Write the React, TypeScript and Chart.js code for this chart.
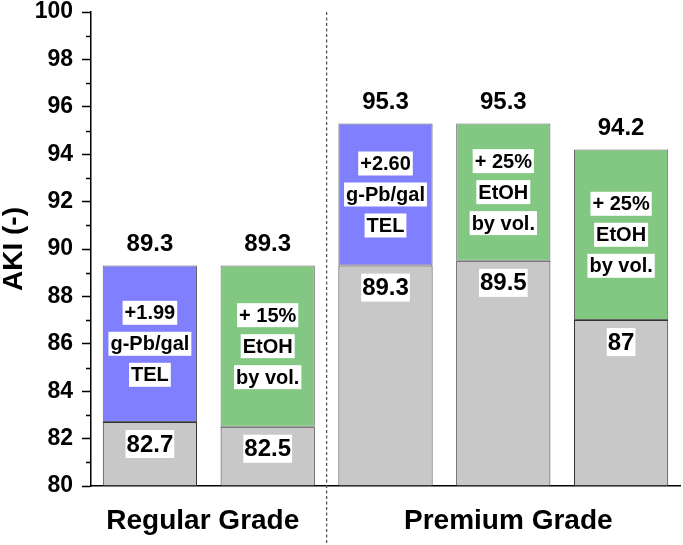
import React, { useEffect, useRef } from "react";
import { Chart, registerables } from "chart.js";

Chart.register(...registerables);

const categories = ["Regular TEL", "Regular EtOH", "Premium TEL", "Premium EtOH A", "Premium EtOH B"];
const baseValues = [82.7, 82.5, 89.3, 89.5, 87];
const totalValues = [89.3, 89.3, 95.3, 95.3, 94.2];
const baseLabels = ["82.7", "82.5", "89.3", "89.5", "87"];
const totalLabels = ["89.3", "89.3", "95.3", "95.3", "94.2"];
const additiveLines = [
  ["+1.99", "g-Pb/gal", "TEL"],
  ["+ 15%", "EtOH", "by vol."],
  ["+2.60", "g-Pb/gal", "TEL"],
  ["+ 25%", "EtOH", "by vol."],
  ["+ 25%", "EtOH", "by vol."],
];
const additiveType = ["TEL", "EtOH", "TEL", "EtOH", "EtOH"];
const groups = [
  { label: "Regular Grade", from: 0, to: 1, dx: -6 },
  { label: "Premium Grade", from: 3, to: 3, dx: 5 },
];
const yTicks = [80, 82, 84, 86, 88, 90, 92, 94, 96, 98, 100];
const yMinorTicks = [81, 83, 85, 87, 89, 91, 93, 95, 97, 99];

const FONT = "'Liberation Sans', Arial, sans-serif";
const BLUE = "#8080FF";
const GREEN = "#82C882";
const GRAY = "#C8C8C8";

const overlayPlugin = {
  id: "overlay",
  afterDatasetsDraw(chart: any) {
    const ctx = chart.ctx;
    const x = chart.scales.x;
    const y = chart.scales.y;
    const area = chart.chartArea;
    const baseMeta = chart.getDatasetMeta(0);
    const topMeta = chart.getDatasetMeta(1);

    ctx.save();
    // minor ticks
    ctx.strokeStyle = "#000";
    ctx.lineWidth = 1.5;
    yMinorTicks.forEach((v) => {
      const py = Math.round(y.getPixelForValue(v)) + 0.5;
      ctx.beginPath();
      ctx.moveTo(area.left - 5, py);
      ctx.lineTo(area.left, py);
      ctx.stroke();
    });

    // dashed separator
    const sepX = (x.getPixelForValue(1) + x.getPixelForValue(2)) / 2;
    ctx.strokeStyle = "#555";
    ctx.lineWidth = 1.3;
    ctx.setLineDash([3, 2.5]);
    ctx.beginPath();
    ctx.moveTo(sepX, area.top);
    ctx.lineTo(sepX, chart.height);
    ctx.stroke();
    ctx.setLineDash([]);

    ctx.textAlign = "center";
    ctx.textBaseline = "middle";

    const drawBoxed = (text: string, cx: number, cy: number, size: number, boxH: number, padX: number) => {
      ctx.font = `bold ${size}px ${FONT}`;
      const w = ctx.measureText(text).width + padX * 2;
      ctx.fillStyle = "#fff";
      ctx.fillRect(cx - w / 2, cy - boxH / 2, w, boxH);
      ctx.fillStyle = "#000";
      ctx.fillText(text, cx, cy + 1);
    };

    for (let i = 0; i < categories.length; i++) {
      const b = baseMeta.data[i];
      const t = topMeta.data[i];
      // total label above bar
      ctx.font = `bold 24px ${FONT}`;
      ctx.fillStyle = "#000";
      ctx.fillText(totalLabels[i], t.x, t.y - 21);
      // base label
      drawBoxed(baseLabels[i], b.x, b.y + 22, 24, 28, 1);
      // additive lines centered in top segment
      const mid = (t.y + t.base) / 2;
      const lines = additiveLines[i];
      const spacing = 31;
      lines.forEach((ln, k) => {
        const cy = mid + (k - (lines.length - 1) / 2) * spacing;
        drawBoxed(ln, t.x, cy, 20, 24, 2);
      });
    }

    // group labels
    ctx.font = `bold 28px ${FONT}`;
    ctx.fillStyle = "#000";
    groups.forEach((g) => {
      const gx = (x.getPixelForValue(g.from) + x.getPixelForValue(g.to)) / 2 + g.dx;
      ctx.fillText(g.label, gx, area.bottom + 35);
    });
    ctx.restore();
  },
};

export default function App() {
  const ref = useRef<HTMLCanvasElement | null>(null);
  useEffect(() => {
    document.body.style.margin = "0";
    const canvas = ref.current;
    if (!canvas) return;
    const chart = new Chart(canvas, {
      type: "bar",
      data: {
        labels: categories,
        datasets: [
          {
            label: "Base",
            data: baseValues.map((v) => [80, v]) as any,
            backgroundColor: GRAY,
            borderColor: "#333",
            borderWidth: 1,
            borderSkipped: false,
            grouped: false,
            barPercentage: 0.8,
            categoryPercentage: 1,
          } as any,
          {
            label: "Additive",
            data: baseValues.map((v, i) => [v, totalValues[i]]) as any,
            backgroundColor: additiveType.map((t) => (t === "TEL" ? BLUE : GREEN)),
            borderColor: "#666",
            borderWidth: 1,
            borderSkipped: false,
            grouped: false,
            barPercentage: 0.8,
            categoryPercentage: 1,
          } as any,
        ],
      },
      options: {
        responsive: false,
        animation: false,
        devicePixelRatio: 1,
        layout: { padding: { left: 0, right: 3, top: 12, bottom: 0 } },
        plugins: { legend: { display: false }, tooltip: { enabled: false }, title: { display: false } },
        scales: {
          x: {
            type: "category",
            offset: true,
            ticks: { display: false },
            grid: { display: true, drawOnChartArea: false, drawTicks: false },
            border: { display: true, color: "#000", width: 1.5 },
            afterFit: (s: any) => {
              s.height = 59;
              s.paddingLeft = 0;
              s.paddingRight = 0;
            },
          },
          y: {
            min: 80,
            max: 100,
            afterBuildTicks: (s: any) => {
              s.ticks = yTicks.map((v) => ({ value: v }));
            },
            ticks: {
              color: "#000",
              padding: 9,
              font: { family: FONT, size: 23, weight: "bold", lineHeight: 1 },
              callback: (v: any) => String(v),
            },
            grid: {
              display: true,
              drawOnChartArea: false,
              drawTicks: true,
              tickLength: 9,
              tickWidth: 1.5,
              tickColor: "#000",
            },
            border: { display: true, color: "#000", width: 1.5 },
            title: {
              display: true,
              text: "AKI (-)",
              color: "#000",
              padding: 0,
              font: { family: FONT, size: 28, weight: "bold", lineHeight: 1 },
            },
            afterFit: (s: any) => {
              s.width = 91;
              s.paddingTop = 0;
              s.paddingBottom = 0;
            },
          },
        },
      },
      plugins: [overlayPlugin],
    } as any);
    return () => chart.destroy();
  }, []);
  return (
    <div style={{ width: 683, height: 545 }}>
      <canvas ref={ref} width={683} height={545} style={{ display: "block" }} />
    </div>
  );
}
